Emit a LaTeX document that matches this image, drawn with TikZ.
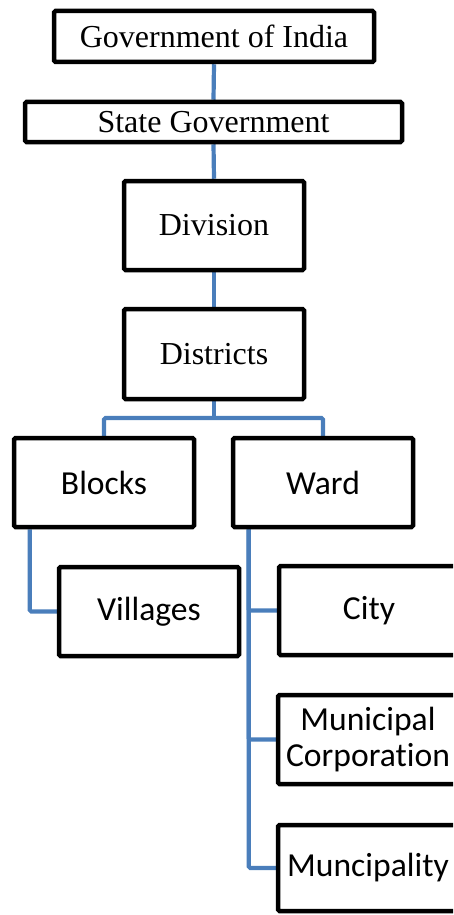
\documentclass[tikz,border=0pt]{standalone}
\usepackage{fontspec}
\setmainfont{Liberation Serif}
\newfontfamily\calib[Ligatures={NoCommon,NoRare},Contextuals=NoAlternate]{Carlito}
\usetikzlibrary{backgrounds}
\definecolor{conblue}{RGB}{74,126,187}
\tikzset{
  box/.style={draw=black, fill=white, line width=4.5pt, rounded corners=1.5pt, inner sep=0pt, align=center},
  serifbox/.style={box, font=\fontsize{32}{36}\selectfont},
  sansbox/.style={box, font=\calib\fontsize{33.6}{36.7}\selectfont},
  conn/.style={draw=conblue, line width=4.2pt, rounded corners=1.5pt}
}
\begin{document}
\begin{tikzpicture}[x=1pt, y=-1pt]
\clip (0,0) rectangle (453,915);
\node[serifbox, minimum width=320pt, minimum height=51pt] (gov) at (214,36.5) {Government of India};
\node[serifbox, minimum width=377pt, minimum height=40pt] (state) at (213.5,122) {State Government};
\node[serifbox, minimum width=180pt, minimum height=89pt] (div) at (214,225.5) {Division};
\node[serifbox, minimum width=180pt, minimum height=90pt] (dist) at (214,354) {Districts};
\node[sansbox, minimum width=180pt, minimum height=89pt] (blocks) at (104,482.5) {Blocks};
\node[sansbox, minimum width=180pt, minimum height=89pt] (ward) at (323,482.5) {Ward};
\node[sansbox, minimum width=180pt, minimum height=89pt] (vill) at (149,611.5) {Villages};
\node[sansbox, minimum width=180pt, minimum height=89pt] (city) at (369,610.5) {City};
\node[sansbox, minimum width=180pt, minimum height=89pt] (mcorp) at (368,739.5) {Municipal\\Corporat\kern0pt ion};
\node[sansbox, minimum width=180pt, minimum height=86pt] (mcip) at (368,868) {Muncipality};
\coordinate (bus) at (214,418);
\coordinate (wx) at ([xshift=18pt]ward.south west);
\coordinate (bx) at ([xshift=18pt]blocks.south west);
\begin{scope}[on background layer]
\draw[conn] (gov.south) -- (state.north);
\draw[conn] (state.south) -- (div.north);
\draw[conn] (div.south) -- (dist.north);
\draw[conn] (dist.south) -- (bus);
\draw[conn] (blocks.north) |- (bus) -| (ward.north);
\draw[conn] (bx) |- (vill.west);
\draw[conn] (wx) |- (mcip.west);
\draw[conn] (city.west) -| (wx);
\draw[conn] (mcorp.west) -| (wx);
\end{scope}
\end{tikzpicture}
\end{document}
